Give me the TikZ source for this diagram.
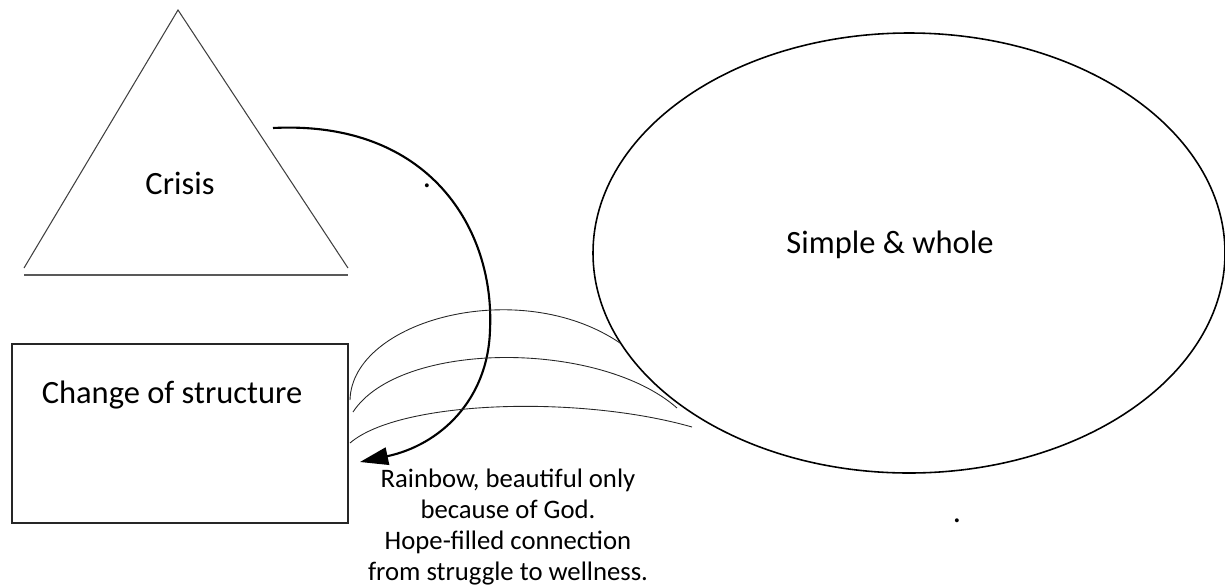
\documentclass[tikz,border=0pt]{standalone}
\usepackage{fontspec}
\setmainfont{Carlito}
\usetikzlibrary{arrows.meta}

\begin{document}
\begin{tikzpicture}[x=0.02cm, y=-0.02cm,
    labeltext/.style={font=\fontsize{18.5}{22}\selectfont, inner sep=0pt},
    captiontext/.style={font=\fontsize{15.2}{17.6}\selectfont, inner sep=0pt, align=center},
    rainbowarc/.style={line width=0.5pt, black!85}]
    \useasboundingbox (0,0) rectangle (1225,586);

    % Crisis triangle with its base line
    \draw[line width=0.6pt, black!75] (24,268) -- (178,10) -- (348,268);
    \draw[line width=1.1pt, black!65] (24,275) -- (348,275);
    \node[labeltext] (crisis) at (180,183) {Crisis};

    % Simple and whole
    \draw[line width=0.9pt] (909,253) ellipse (316 and 220);
    \node[labeltext] (whole) at (890,245) {Simple \& whole};

    % Change of structure
    \draw[line width=1pt, black!85] (12,344) rectangle (348,523);
    \node[labeltext] (change) at (172,395) {Change of structure};

    % Arrow from crisis back to the box
    \coordinate (arrowstart) at (273,128);
    \coordinate (arrowend) at (360,462);
    \draw[line width=1.2pt, -{Triangle[length=16pt, width=10pt]}]
        (arrowstart) .. controls (430,120) and (495,230) .. (490,330)
        .. controls (488,400) and (440,445) .. (arrowend);

    % Rainbow arcs
    \coordinate (bowA) at (350,400);
    \coordinate (bowB) at (353,412);
    \coordinate (bowC) at (350,443);
    \coordinate (endA) at (620,343);
    \coordinate (endB) at (677,408);
    \coordinate (endC) at (692,427);
    \draw[rainbowarc] (bowA) .. controls (352,320) and (520,275) .. (endA);
    \draw[rainbowarc] (bowB) .. controls (400,340) and (600,340) .. (endB);
    \draw[rainbowarc] (bowC) .. controls (400,400) and (580,395) .. (endC);

    % Caption
    \node[captiontext] (caption) at (508,527)
        {Rainbow, beautiful only\\because of God.\\Hope-filled connection\\from struggle to wellness.};

    % stray dots
    \node[labeltext] (dotA) at (427,186) {.};
    \node[labeltext] (dotB) at (957,521) {.};
\end{tikzpicture}
\end{document}
